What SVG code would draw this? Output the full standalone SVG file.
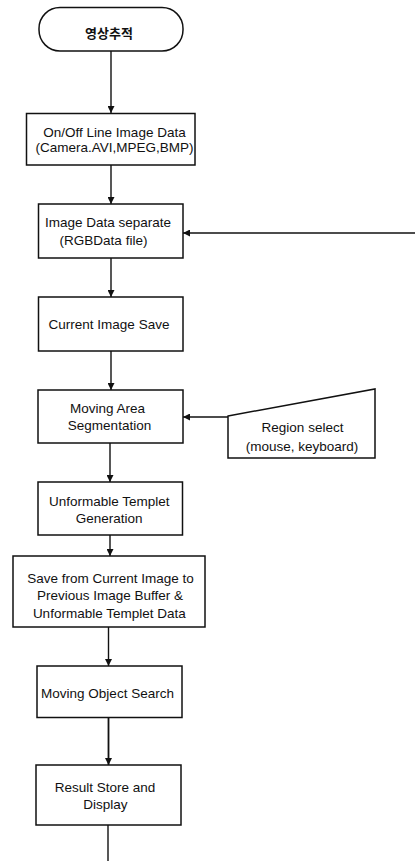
<svg xmlns="http://www.w3.org/2000/svg" width="415" height="861" viewBox="0 0 415 861">
<defs>
<style>
.n{fill:#fff;stroke:#111;stroke-width:1.5}
.t{font-family:"Liberation Sans",Arial,sans-serif;font-size:13.5px;fill:#111;text-anchor:middle}
.k{font-family:"Noto Sans CJK KR","Noto Sans CJK SC",sans-serif;font-size:13px;font-weight:bold;fill:#111;text-anchor:middle}
.c{fill:none;stroke:#111;stroke-width:1.4}
</style>
<marker id="ah" markerWidth="8" markerHeight="7" refX="7" refY="3.5" orient="auto" markerUnits="userSpaceOnUse">
<path d="M0,0 L7,3.5 L0,7 Z" fill="#111"/>
</marker>
</defs>
<rect width="415" height="861" fill="#fff"/>
<g id="connectors">
<line class="c" x1="111" y1="51" x2="111" y2="113" marker-end="url(#ah)"/>
<line class="c" x1="111" y1="165" x2="111" y2="204" marker-end="url(#ah)"/>
<line class="c" x1="111" y1="258" x2="111" y2="297" marker-end="url(#ah)"/>
<line class="c" x1="111" y1="351" x2="111" y2="390" marker-end="url(#ah)"/>
<line class="c" x1="110" y1="443" x2="110" y2="482" marker-end="url(#ah)"/>
<line class="c" x1="110" y1="535" x2="110" y2="556" marker-end="url(#ah)"/>
<line class="c" x1="108.5" y1="627" x2="108.5" y2="666" marker-end="url(#ah)"/>
<line class="c" x1="108.5" y1="717" x2="108.5" y2="765" marker-end="url(#ah)" style="stroke-width:1.8"/>
<line class="c" x1="108" y1="825" x2="108" y2="861"/>
<line class="c" x1="415" y1="233" x2="183" y2="233" marker-end="url(#ah)"/>
<line class="c" x1="228" y1="417" x2="183" y2="417" marker-end="url(#ah)"/>
</g>
<g id="start">
<rect class="n" x="39" y="7.5" width="144" height="43.5" rx="21" ry="21"/>
<text class="k" x="109" y="38">영상추적</text>
</g>
<g id="input">
<rect class="n" x="26.5" y="113.5" width="168.5" height="51.5"/>
<text class="t" x="114.5" y="136.5">On/Off Line Image Data</text>
<text class="t" x="114.5" y="152">(Camera.AVI,MPEG,BMP)</text>
</g>
<g id="separate">
<rect class="n" x="38.5" y="204" width="144.5" height="54"/>
<text class="t" x="108" y="227">Image Data separate</text>
<text class="t" x="103.5" y="245">(RGBData file)</text>
</g>
<g id="save">
<rect class="n" x="38.5" y="297" width="144.5" height="54"/>
<text class="t" x="109" y="329">Current Image Save</text>
</g>
<g id="segment">
<rect class="n" x="38" y="390" width="145" height="53"/>
<text class="t" x="107.5" y="412.5">Moving Area</text>
<text class="t" x="109.5" y="430">Segmentation</text>
</g>
<g id="region">
<polygon class="n" points="228,416 375,389 375,458 228,458"/>
<text class="t" x="302.5" y="431.5">Region  select</text>
<text class="t" x="302" y="450.5">(mouse,  keyboard)</text>
</g>
<g id="templet">
<rect class="n" x="38" y="482" width="144.5" height="53"/>
<text class="t" x="109.2" y="505.5">Unformable Templet</text>
<text class="t" x="109.2" y="523">Generation</text>
</g>
<g id="buffer">
<rect class="n" x="13" y="556" width="192" height="71"/>
<text class="t" x="110.5" y="582.5">Save from Current Image to</text>
<text class="t" x="110" y="600">Previous Image Buffer &amp;</text>
<text class="t" x="109.3" y="617.5">Unformable Templet Data</text>
</g>
<g id="search">
<rect class="n" x="37" y="666" width="145" height="51.5"/>
<text class="t" x="107.5" y="698">Moving Object Search</text>
</g>
<g id="result">
<rect class="n" x="36" y="765" width="145" height="60"/>
<text class="t" x="105" y="791.5">Result Store and</text>
<text class="t" x="105.3" y="809">Display</text>
</g>
</svg>
